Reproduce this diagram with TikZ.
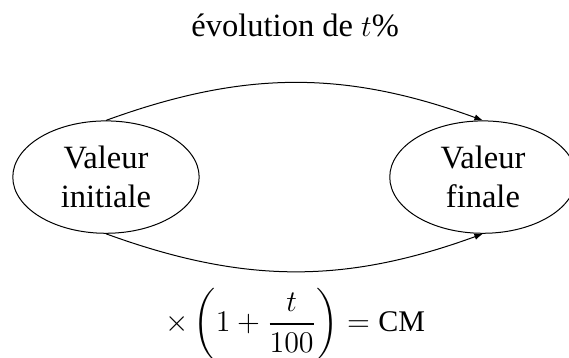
\documentclass[tikz,border=0pt]{standalone}
\usepackage{amsmath}
\usepackage{fontspec}
\setmainfont{Liberation Serif}
\usetikzlibrary{arrows.meta,positioning,shapes.geometric}

\begin{document}
\begin{tikzpicture}[every node/.style={font=\fontsize{13}{15.6}\selectfont},
 valeur/.style={draw,ellipse,minimum width=2.62cm,minimum height=1.58cm,align=center,inner sep=0pt},
 arr/.style={-{Latex[length=1.2mm]}}]
\useasboundingbox (0,0) rectangle (8,-5.03);
\node[valeur] (vi) at (1.49,-2.49) {Valeur\\initiale};
\node[valeur] (vf) at (6.79,-2.49) {Valeur\\finale};
\node[anchor=base] (titre) at (4.15,-0.52) {évolution de $t$\%};
\node[anchor=base,font=\large] (cm) at (4.15,-4.66) {$\times\left(1+\dfrac{t}{100}\right)=\text{CM}$};
\draw[arr] (vi.north) to[bend left=20] (vf.north);
\draw[arr] (vi.south) to[bend right=20] (vf.south);
\end{tikzpicture}
\end{document}
